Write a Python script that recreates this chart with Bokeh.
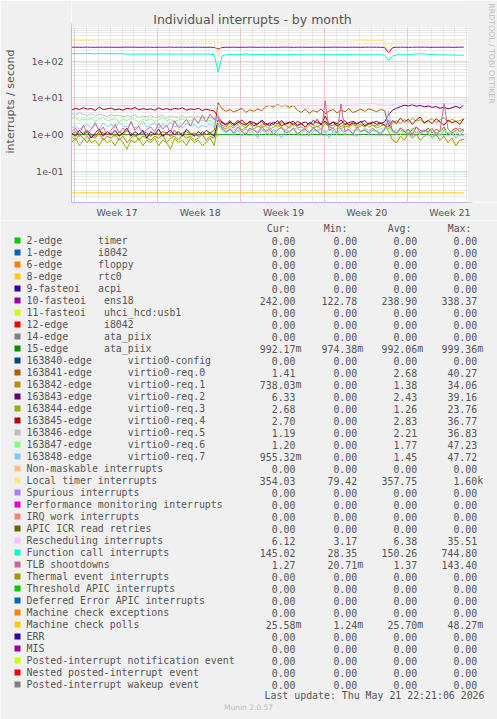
import re
from bokeh.plotting import figure
from bokeh.layouts import column
from bokeh.models import Range1d, FixedTicker, Label, BoxAnnotation
from bokeh.core.properties import value
from bokeh.embed import file_html
from bokeh.resources import INLINE

# ---------------- data (one sample every 8 hours, 100 samples) ----------------
SAMPLES_PER_DAY = 3
N = 100
t_days = [i / SAMPLES_PER_DAY for i in range(N)]

week_line_days = [0.25, 7.25, 14.25, 21.25, 28.25]
week_label_days = [3.83, 10.83, 17.83, 24.83, 31.83]
week_labels = ["Week 17", "Week 18", "Week 19", "Week 20", "Week 21"]
y_tick_values = [0.1, 1, 10, 100]
y_tick_labels = ["1e-01", "1e+00", "1e+01", "1e+02"]

ens18 = [
    240, 241, 239, 240, 242, 240, 239, 241, 240, 240,
    241, 239, 240, 240, 242, 240, 241, 239, 240, 241,
    240, 239, 241, 240, 240, 242, 239, 240, 241, 240,
    239, 240, 241, 240, 239, 240, 238, 215, 236, 240,
    240, 241, 239, 240, 240, 242, 240, 239, 241, 240,
    240, 239, 241, 240, 242, 240, 239, 240, 241, 240,
    239, 240, 241, 240, 240, 239, 242, 240, 241, 239,
    240, 241, 240, 239, 240, 242, 240, 241, 239, 238,
    168, 232, 240, 241, 240, 239, 240, 242, 240, 241,
    240, 239, 241, 240, 240, 242, 239, 240, 241, 242,
]
ata_piix = [
    0.99, 0.99, 1.0, 0.99, 0.99, 0.98, 0.99, 0.99, 1.0, 0.99,
    0.99, 0.99, 0.98, 0.99, 0.99, 1.0, 0.99, 0.99, 0.99, 0.98,
    0.99, 1.0, 0.99, 0.99, 0.99, 0.98, 0.99, 0.99, 1.0, 0.99,
    0.99, 0.98, 0.99, 0.99, 1.0, 0.99, 0.99, 0.98, 0.99, 0.99,
    0.99, 0.99, 1.0, 0.99, 0.99, 0.98, 0.99, 0.99, 0.99, 1.0,
    0.99, 0.99, 0.98, 0.99, 0.99, 1.0, 0.99, 0.99, 0.98, 0.99,
    0.99, 1.0, 0.99, 0.99, 0.98, 0.99, 0.99, 1.0, 0.99, 0.99,
    0.99, 0.98, 0.99, 0.99, 1.0, 0.99, 0.99, 0.99, 0.98, 0.99,
    0.98, 0.99, 0.99, 1.0, 0.99, 0.99, 0.98, 0.99, 0.99, 1.0,
    0.99, 0.99, 0.98, 0.99, 0.99, 1.0, 0.99, 0.99, 0.98, 0.99,
]
virtio_req0 = [
    1.0, 1.2, 0.9, 1.1, 1.3, 1.0, 0.9, 1.2, 1.1, 1.0,
    1.1, 0.9, 1.2, 1.0, 1.3, 1.1, 0.9, 1.0, 1.2, 1.1,
    0.9, 1.1, 1.0, 1.2, 1.1, 0.9, 1.3, 1.0, 1.1, 1.2,
    1.0, 1.1, 0.9, 1.2, 1.0, 1.1, 1.3, 7.4, 5.0, 4.3,
    4.8, 4.1, 4.6, 5.2, 4.0, 4.7, 4.3, 5.0, 4.4, 5.8,
    6.2, 5.6, 6.6, 5.9, 6.3, 5.5, 6.1, 4.6, 4.0, 4.9,
    3.8, 4.5, 4.1, 5.0, 3.7, 4.4, 4.8, 3.9, 4.6, 4.2,
    5.1, 4.0, 4.4, 4.9, 4.3, 5.0, 4.6, 4.2, 4.8, 4.5,
    1.8, 1.3, 1.1, 1.5, 1.2, 1.4, 1.0, 1.6, 1.3, 1.2,
    1.5, 1.1, 1.4, 1.2, 1.6, 1.0, 1.3, 1.5, 1.2, 1.41,
]
virtio_req1 = [
    0.9, 0.7, 1.0, 0.8, 0.6, 0.9, 0.8, 1.1, 0.7, 0.9,
    0.8, 1.0, 0.7, 0.9, 0.6, 0.8, 1.0, 0.7, 0.9, 0.8,
    0.7, 0.9, 0.8, 1.0, 0.6, 0.8, 0.9, 0.7, 1.0, 0.8,
    0.9, 0.7, 0.8, 1.0, 0.7, 0.9, 0.8, 2.0, 1.8, 1.6,
    2.0, 1.7, 2.2, 1.8, 1.5, 1.9, 2.1, 1.6, 1.8, 2.0,
    1.7, 1.9, 1.6, 2.2, 1.8, 1.5, 2.0, 1.7, 1.9, 1.6,
    2.1, 1.8, 1.6, 1.9, 2.2, 1.7, 1.8, 2.0, 1.6, 1.9,
    1.8, 2.0, 1.7, 1.9, 1.6, 2.1, 1.8, 1.7, 2.0, 1.8,
    1.2, 0.7, 0.6, 0.9, 0.7, 1.1, 0.8, 1.0, 0.7, 0.9,
    1.1, 0.8, 1.0, 0.7, 0.9, 0.6, 0.8, 0.5, 0.7, 0.74,
]
virtio_req2 = [
    1.1, 0.9, 1.3, 1.0, 1.2, 0.8, 1.1, 1.4, 0.9, 1.2,
    1.0, 1.3, 0.9, 1.1, 1.5, 0.9, 1.2, 1.0, 1.3, 0.8,
    1.2, 1.0, 1.4, 0.9, 1.1, 1.3, 1.0, 1.2, 0.9, 1.4,
    1.1, 0.9, 1.2, 1.0, 1.3, 1.1, 0.9, 2.5, 2.1, 1.8,
    2.2, 1.9, 2.4, 2.0, 1.8, 2.3, 2.1, 1.9, 2.5, 2.0,
    1.8, 2.2, 2.0, 2.4, 1.9, 2.1, 2.3, 1.8, 2.0, 2.2,
    1.9, 2.4, 2.1, 2.0, 2.3, 1.8, 2.2, 2.0, 2.5, 1.9,
    2.1, 2.3, 2.0, 2.2, 2.4, 1.9, 2.1, 2.3, 2.0, 2.2,
    3.5, 4.6, 5.2, 5.8, 6.3, 6.0, 6.5, 5.9, 6.2, 5.7,
    6.0, 5.5, 5.8, 5.2, 5.6, 5.0, 5.4, 5.9, 5.3, 6.33,
]
virtio_req3 = [
    0.6, 0.8, 0.5, 0.7, 0.9, 0.6, 0.7, 0.5, 0.8, 0.6,
    0.7, 0.5, 0.8, 0.6, 0.4, 0.7, 0.6, 0.8, 0.5, 0.7,
    0.6, 0.8, 0.5, 0.7, 0.6, 0.4, 0.8, 0.6, 0.7, 0.5,
    0.8, 0.6, 0.7, 0.5, 0.6, 0.8, 0.5, 1.8, 1.6, 1.4,
    1.7, 1.5, 1.9, 1.3, 1.6, 2.0, 1.4, 1.7, 1.5, 1.8,
    1.4, 1.6, 1.9, 1.5, 1.3, 1.7, 2.1, 1.5, 1.6, 1.4,
    1.8, 1.5, 1.7, 1.4, 2.0, 1.6, 1.5, 1.9, 1.4, 1.7,
    1.6, 1.9, 1.5, 1.7, 2.0, 1.6, 1.8, 1.5, 1.7, 1.9,
    1.4, 2.1, 2.4, 2.0, 2.6, 2.2, 2.8, 2.3, 2.5, 2.0,
    2.4, 2.7, 2.1, 2.5, 2.9, 2.2, 2.6, 2.3, 2.4, 2.68,
]
virtio_req4 = [
    4.6, 5.2, 4.8, 5.4, 4.9, 5.1, 4.5, 5.6, 4.8, 5.0,
    5.3, 4.7, 5.0, 4.6, 5.2, 4.9, 5.5, 4.7, 5.1, 4.8,
    5.0, 4.6, 5.3, 4.8, 5.1, 4.7, 5.2, 4.9, 5.4, 4.6,
    5.0, 4.8, 5.2, 4.5, 4.9, 4.6, 4.4, 3.0, 2.2, 1.9,
    2.4, 1.8, 2.1, 2.5, 1.9, 2.2, 1.7, 2.0, 2.3, 1.8,
    2.1, 1.9, 2.4, 1.7, 2.0, 2.2, 1.8, 2.3, 2.0, 1.6,
    2.1, 1.9, 2.6, 1.8, 3.2, 1.9, 2.2, 1.7, 2.0, 2.4,
    1.8, 2.1, 1.9, 2.3, 1.7, 2.0, 2.2, 1.9, 2.1, 1.8,
    1.6, 2.4, 2.0, 2.8, 2.2, 2.6, 1.9, 2.5, 3.0, 2.1,
    2.4, 2.0, 2.7, 2.2, 1.8, 2.5, 2.1, 2.3, 1.9, 2.7,
]
virtio_req5 = [
    3.8, 3.4, 3.9, 3.5, 3.3, 3.7, 3.2, 3.6, 3.4, 3.1,
    3.5, 3.2, 3.4, 3.0, 3.3, 3.1, 3.5, 2.9, 3.2, 3.0,
    3.3, 2.9, 3.1, 3.4, 2.8, 3.2, 3.0, 2.9, 3.3, 2.8,
    3.1, 2.9, 3.2, 2.7, 3.0, 2.8, 2.9, 2.0, 1.4, 1.2,
    1.5, 1.3, 1.6, 1.2, 1.4, 1.3, 1.5, 1.1, 1.4, 1.3,
    1.6, 1.2, 1.4, 1.5, 1.3, 1.2, 1.5, 1.4, 1.3, 1.6,
    1.2, 1.4, 1.3, 1.5, 1.2, 1.4, 1.3, 1.5, 1.4, 1.2,
    1.6, 1.3, 1.4, 1.2, 1.5, 1.3, 1.4, 1.2, 1.5, 1.3,
    1.8, 1.1, 1.3, 1.2, 1.4, 1.0, 1.3, 1.2, 1.1, 1.4,
    1.2, 1.3, 1.0, 1.2, 1.4, 1.1, 1.3, 1.2, 1.0, 1.19,
]
virtio_req6 = [
    2.6, 2.9, 2.4, 2.7, 2.5, 2.8, 2.3, 2.6, 2.9, 2.4,
    2.5, 2.7, 2.3, 2.6, 2.4, 2.8, 2.5, 2.2, 2.6, 2.4,
    2.7, 2.3, 2.5, 2.9, 2.4, 2.6, 2.2, 2.5, 2.7, 2.3,
    2.4, 2.6, 2.2, 2.5, 2.3, 2.4, 2.1, 1.8, 1.3, 1.2,
    1.4, 1.1, 1.3, 1.2, 1.5, 1.1, 1.3, 1.2, 1.4, 1.0,
    1.3, 1.2, 1.4, 1.1, 1.3, 1.2, 1.5, 1.1, 1.2, 1.4,
    1.1, 1.3, 1.2, 1.4, 1.1, 1.3, 1.2, 1.0, 1.3, 1.2,
    1.4, 1.1, 1.3, 1.2, 1.5, 1.1, 1.2, 1.3, 1.1, 1.4,
    1.6, 1.2, 1.4, 1.0, 1.3, 1.1, 1.5, 1.2, 1.0, 1.3,
    1.1, 1.4, 1.2, 0.9, 1.3, 1.1, 1.2, 1.0, 1.3, 1.2,
]
virtio_req7 = [
    1.5, 1.7, 1.4, 1.6, 1.9, 1.5, 1.8, 1.4, 2.1, 1.6,
    1.9, 1.5, 2.2, 1.7, 1.6, 2.0, 1.5, 1.8, 2.3, 1.6,
    1.8, 2.1, 1.5, 1.9, 1.7, 2.2, 1.6, 1.8, 1.5, 2.0,
    1.7, 1.9, 1.5, 1.8, 1.6, 2.0, 1.5, 3.6, 1.3, 1.1,
    1.4, 1.0, 1.3, 0.9, 1.2, 1.5, 1.1, 0.8, 1.3, 1.2,
    1.0, 1.4, 1.1, 0.8, 1.3, 1.2, 1.5, 1.0, 1.1, 1.3,
    0.9, 1.2, 1.4, 1.0, 1.3, 0.8, 1.2, 1.1, 1.4, 1.0,
    1.3, 1.1, 0.9, 1.2, 1.4, 1.0, 1.3, 1.2, 1.1, 1.3,
    4.4, 1.2, 1.0, 1.4, 1.1, 1.3, 0.9, 1.2, 1.0, 1.3,
    1.1, 0.8, 1.2, 1.0, 1.3, 0.9, 1.1, 0.8, 1.0, 0.96,
]
local_timer = [
    372, 370, 368, 371, 366, 362, 355, 352, 350, 351,
    350, 352, 349, 351, 350, 352, 351, 349, 350, 351,
    350, 352, 351, 350, 349, 351, 352, 350, 351, 350,
    349, 351, 350, 352, 351, 350, 349, 140, 330, 352,
    351, 350, 352, 349, 351, 350, 351, 352, 350, 349,
    351, 350, 352, 351, 350, 349, 351, 350, 352, 351,
    350, 349, 351, 352, 350, 351, 350, 349, 351, 352,
    350, 351, 365, 370, 372, 368, 371, 369, 366, 362,
    175, 340, 352, 350, 351, 349, 350, 352, 351, 350,
    349, 351, 350, 352, 351, 350, 349, 351, 352, 354,
]
rescheduling = [
    6.2, 6.3, 6.2, 6.2, 6.3, 6.2, 6.2, 6.3, 6.2, 6.2,
    6.3, 6.2, 6.2, 6.3, 6.2, 6.2, 6.3, 6.2, 6.2, 6.3,
    6.2, 6.2, 6.3, 6.2, 6.2, 6.3, 6.2, 6.2, 6.3, 6.2,
    6.2, 6.3, 6.2, 6.2, 6.3, 6.2, 6.2, 6.0, 6.2, 6.3,
    6.3, 6.2, 6.3, 6.3, 6.2, 6.3, 6.3, 6.2, 6.3, 6.3,
    6.2, 6.3, 6.3, 6.2, 6.3, 6.3, 6.2, 6.3, 6.3, 6.2,
    6.3, 6.3, 6.2, 6.3, 6.3, 6.2, 6.3, 6.3, 6.2, 6.3,
    6.3, 6.2, 6.9, 7.0, 7.0, 6.9, 7.0, 6.8, 6.4, 6.3,
    6.2, 6.6, 6.8, 6.9, 6.8, 6.9, 6.8, 6.9, 6.8, 6.9,
    6.8, 6.9, 6.8, 6.8, 6.9, 6.8, 6.9, 6.8, 6.8, 6.1,
]
function_call = [
    160, 161, 159, 160, 162, 160, 158, 161, 160, 159,
    160, 158, 161, 159, 156, 157, 155, 156, 157, 155,
    156, 157, 155, 156, 158, 156, 155, 157, 156, 155,
    157, 156, 155, 156, 157, 155, 152, 50, 140, 150,
    152, 151, 150, 153, 158, 152, 150, 151, 152, 150,
    151, 152, 150, 149, 151, 150, 152, 151, 150, 149,
    150, 151, 149, 150, 152, 150, 149, 151, 150, 152,
    150, 149, 151, 150, 148, 149, 150, 151, 149, 147,
    105, 138, 148, 150, 149, 151, 152, 158, 160, 156,
    154, 152, 150, 148, 149, 147, 148, 146, 147, 145,
]
tlb_shootdowns = [
    1.2, 1.5, 1.0, 1.8, 1.1, 1.4, 2.1, 1.2, 1.6, 1.0,
    1.3, 1.9, 1.1, 1.5, 1.2, 2.3, 1.3, 1.7, 1.0, 1.4,
    1.6, 1.2, 2.0, 1.4, 1.8, 1.1, 2.4, 1.5, 1.9, 2.6,
    1.7, 2.8, 2.0, 3.4, 2.2, 3.6, 2.5, 3.0, 1.5, 1.2,
    1.4, 1.1, 1.6, 1.2, 1.0, 1.5, 1.3, 1.1, 1.7, 1.2,
    1.4, 1.0, 1.3, 1.6, 1.1, 1.2, 1.5, 1.0, 1.3, 1.4,
    1.1, 1.6, 1.2, 1.0, 8.3, 1.3, 1.5, 1.1, 6.8, 1.2,
    1.4, 1.0, 1.6, 1.2, 1.3, 1.1, 1.5, 1.2, 1.0, 1.4,
    2.5, 1.3, 1.1, 1.5, 1.2, 1.0, 1.4, 1.6, 1.1, 1.3,
    1.2, 1.5, 1.0, 1.3, 7.0, 1.4, 1.1, 1.3, 1.5, 1.27,
]
machine_check_polls = [
    0.0257, 0.0256, 0.0258, 0.0257, 0.0257, 0.0256, 0.0258, 0.0257, 0.0257, 0.0256,
    0.0257, 0.0258, 0.0257, 0.0256, 0.0257, 0.0257, 0.0258, 0.0257, 0.0256, 0.0257,
    0.0258, 0.0257, 0.0257, 0.0256, 0.0257, 0.0258, 0.0257, 0.0257, 0.0256, 0.0257,
    0.0257, 0.0258, 0.0256, 0.0257, 0.0257, 0.0258, 0.0257, 0.0256, 0.0257, 0.0257,
    0.0258, 0.0257, 0.0256, 0.0257, 0.0257, 0.0258, 0.0257, 0.0256, 0.0257, 0.0258,
    0.0257, 0.0257, 0.0256, 0.0258, 0.0257, 0.0257, 0.0256, 0.0257, 0.0258, 0.0257,
    0.0256, 0.0257, 0.0257, 0.0258, 0.0257, 0.0256, 0.0257, 0.0257, 0.0258, 0.0257,
    0.0257, 0.0256, 0.0258, 0.0257, 0.0257, 0.0256, 0.0257, 0.0258, 0.0257, 0.0257,
    0.0256, 0.0257, 0.0258, 0.0257, 0.0256, 0.0257, 0.0257, 0.0258, 0.0257, 0.0256,
    0.0257, 0.0258, 0.0257, 0.0257, 0.0256, 0.0257, 0.0258, 0.0257, 0.0256, 0.0256,
]

# drawn in legend order: (values, colour)
plotted_series = [
    (ens18, "#990099"),
    (ata_piix, "#008F00"),
    (virtio_req0, "#B35A00"),
    (virtio_req1, "#B38F00"),
    (virtio_req2, "#6B006B"),
    (virtio_req3, "#8FB300"),
    (virtio_req4, "#B30000"),
    (virtio_req5, "#BEBEBE"),
    (virtio_req6, "#80FF80"),
    (virtio_req7, "#80C9FF"),
    (local_timer, "#FFE680"),
    (rescheduling, "#FFBFFF"),
    (function_call, "#00FFCC"),
    (tlb_shootdowns, "#CC6699"),
    (machine_check_polls, "#FFCC00"),
]

legend_labels = [
    "2-edge      timer", "1-edge      i8042", "6-edge      floppy", "8-edge      rtc0",
    "9-fasteoi   acpi", "10-fasteoi   ens18", "11-fasteoi   uhci_hcd:usb1",
    "12-edge      i8042", "14-edge      ata_piix", "15-edge      ata_piix",
    "163840-edge      virtio0-config", "163841-edge      virtio0-req.0",
    "163842-edge      virtio0-req.1", "163843-edge      virtio0-req.2",
    "163844-edge      virtio0-req.3", "163845-edge      virtio0-req.4",
    "163846-edge      virtio0-req.5", "163847-edge      virtio0-req.6",
    "163848-edge      virtio0-req.7", "Non-maskable interrupts", "Local timer interrupts",
    "Spurious interrupts", "Performance monitoring interrupts", "IRQ work interrupts",
    "APIC ICR read retries", "Rescheduling interrupts", "Function call interrupts",
    "TLB shootdowns", "Thermal event interrupts", "Threshold APIC interrupts",
    "Deferred Error APIC interrupts", "Machine check exceptions", "Machine check polls",
    "ERR", "MIS", "Posted-interrupt notification event", "Nested posted-interrupt event",
    "Posted-interrupt wakeup event",
]
legend_colors = [
    "#00CC00", "#0066B3", "#FF8000", "#FFCC00", "#330099", "#990099", "#CCFF00",
    "#FF0000", "#808080", "#008F00", "#00487D", "#B35A00", "#B38F00", "#6B006B",
    "#8FB300", "#B30000", "#BEBEBE", "#80FF80", "#80C9FF", "#FFC080", "#FFE680",
    "#AA80FF", "#EE00CC", "#FF8080", "#666600", "#FFBFFF", "#00FFCC", "#CC6699",
    "#999900", "#00CC00", "#0066B3", "#FF8000", "#FFCC00", "#330099", "#990099",
    "#CCFF00", "#FF0000", "#808080",
]
Z = "0.00"
cur_vals = [Z, Z, Z, Z, Z, "242.00", Z, Z, Z, "992.17m", Z, "1.41", "738.03m", "6.33",
            "2.68", "2.70", "1.19", "1.20", "955.32m", Z, "354.03", Z, Z, Z, Z, "6.12",
            "145.02", "1.27", Z, Z, Z, Z, "25.58m", Z, Z, Z, Z, Z]
min_vals = [Z, Z, Z, Z, Z, "122.78", Z, Z, Z, "974.38m", Z, Z, Z, Z,
            Z, Z, Z, Z, Z, Z, "79.42", Z, Z, Z, Z, "3.17",
            "28.35", "20.71m", Z, Z, Z, Z, "1.24m", Z, Z, Z, Z, Z]
avg_vals = [Z, Z, Z, Z, Z, "238.90", Z, Z, Z, "992.06m", Z, "2.68", "1.38", "2.43",
            "1.26", "2.83", "2.21", "1.77", "1.45", Z, "357.75", Z, Z, Z, Z, "6.38",
            "150.26", "1.37", Z, Z, Z, Z, "25.70m", Z, Z, Z, Z, Z]
max_vals = [Z, Z, Z, Z, Z, "338.37", Z, Z, Z, "999.36m", Z, "40.27", "34.06", "39.16",
            "23.76", "36.77", "36.83", "47.23", "47.72", Z, "1.60k", Z, Z, Z, Z, "35.51",
            "744.80", "143.40", Z, Z, Z, Z, "48.27m", Z, Z, Z, Z, Z]
column_headers = ["Cur:", "Min:", "Avg:", "Max:"]

TITLE = "Individual interrupts - by month"
Y_LABEL = "interrupts / second"
LAST_UPDATE = "Last update: Thu May 21 22:21:06 2026"
MUNIN = "Munin 2.0.57"
RRD = "RRDTOOL / TOBI OETIKER"

# ---------------- styles ----------------
BG = "#F0F0F0"
TXT = "#555555"
SANS = "DejaVu Sans"
MONO = "DejaVu Sans Mono"

W = 497
CH_H = 220
LG_H = 719 - CH_H
# frame spans x 67..497 and y 0..202; visible plot area is x 67..467, y 27..202
FR_L, FR_B = 67, 18
X_END = 33.33          # right end of the visible plot area (days)
X_FRAME_END = 35.83    # right end of the frame (days)
Y_TOP = 830            # top of the visible plot area
Y_FRAME = (0.01402, 4518)

# ---------------- chart ----------------
p = figure(width=W, height=CH_H, x_range=Range1d(0, X_FRAME_END), y_range=Range1d(*Y_FRAME),
           y_axis_type="log", output_backend="svg", toolbar_location=None, title=None,
           min_border_left=FR_L, min_border_right=0, min_border_top=0,
           min_border_bottom=FR_B, background_fill_color="white", border_fill_color=BG)
p.outline_line_color = None
p.frame_align = False

p.xgrid.ticker = FixedTicker(ticks=week_line_days,
                             minor_ticks=[0.25 + k for k in range(34)])
p.xgrid.grid_line_color = "#F0A0A0"
p.xgrid.grid_line_dash = "1 1"
p.xgrid.minor_grid_line_color = "#D4D4D4"
p.xgrid.minor_grid_line_dash = "1 1"
p.ygrid.ticker = FixedTicker(ticks=y_tick_values,
                             minor_ticks=[m * 10.0 ** e for e in range(-2, 3) for m in range(2, 10)])
p.ygrid.grid_line_color = "#F0A0A0"
p.ygrid.grid_line_dash = "1 1"
p.ygrid.minor_grid_line_color = "#D4D4D4"
p.ygrid.minor_grid_line_dash = "1 1"

for ax in (p.xaxis[0], p.yaxis[0]):
    ax.axis_line_color = "#B8BCE4"
    ax.major_tick_line_color = None
    ax.minor_tick_line_color = None
    ax.major_tick_out = 0
    ax.major_tick_in = 0
    ax.minor_tick_out = 0
    ax.minor_tick_in = 0
    ax.major_label_text_font = SANS
    ax.major_label_text_color = TXT
    ax.major_label_text_font_size = "9.5px"

p.xaxis.ticker = FixedTicker(ticks=week_label_days)
p.xaxis.major_label_overrides = dict(zip(week_label_days, week_labels))
p.xaxis.major_label_standoff = 4
p.xaxis.bounds = (0, 33.7)
p.yaxis.ticker = FixedTicker(ticks=y_tick_values)
p.yaxis.major_label_overrides = dict(zip(y_tick_values, y_tick_labels))
p.yaxis.major_label_standoff = 8
p.yaxis.bounds = (Y_FRAME[0], 1050)
p.yaxis.axis_label = Y_LABEL
p.yaxis.axis_label_text_font = SANS
p.yaxis.axis_label_text_font_size = "11px"
p.yaxis.axis_label_text_font_style = "normal"
p.yaxis.axis_label_text_color = TXT
p.yaxis.axis_label_standoff = 12

for vals, col in plotted_series:
    p.line(t_days, vals, line_color=col, line_width=1)

# grey margins above and to the right of the plot area
p.add_layout(BoxAnnotation(bottom=Y_TOP, fill_color=BG, fill_alpha=1, line_color=None))
p.add_layout(BoxAnnotation(left=X_END, fill_color=BG, fill_alpha=1, line_color=None))

frame_bottom = CH_H - FR_B   # 202
p.add_layout(Label(x=248 - FR_L, y=frame_bottom - 19, x_units="screen", y_units="screen",
                   text=TITLE, text_align="center", text_baseline="middle",
                   text_font=SANS, text_font_size="12.5px", text_color=TXT))
p.add_layout(Label(x=487 - FR_L, y=frame_bottom - 53, x_units="screen", y_units="screen",
                   text=RRD, angle=-1.5708, text_align="center", text_baseline="middle",
                   text_font=SANS, text_font_size="7.8px", text_color="#C0C0C0"))

# ---------------- legend (pixel coordinates, y downward from y=220) ----------------
lg = figure(width=W, height=LG_H, x_range=Range1d(0, W), y_range=Range1d(LG_H, 0),
            output_backend="svg", toolbar_location=None, min_border=0,
            x_axis_location=None, y_axis_location=None,
            background_fill_color=BG, border_fill_color=BG)
lg.outline_line_color = None
lg.frame_align = False
lg.xgrid.visible = False
lg.ygrid.visible = False

CW = 9.9 * 0.602
ROW0, ROWH = 20, 12
name_x, name_y, name_t = [], [], []
for k, lab in enumerate(legend_labels):
    y = ROW0 + k * ROWH
    parts = re.split(r"\s{2,}", lab)
    name_x.append(26); name_y.append(y); name_t.append(parts[0])
    if len(parts) > 1:
        off = lab.index(parts[1], len(parts[0]))
        name_x.append(26 + off * CW); name_y.append(y); name_t.append(parts[1])

lg.rect(x=[17] * len(legend_labels), y=[ROW0 + k * ROWH for k in range(len(legend_labels))],
        width=6, height=6, fill_color=legend_colors, line_color=None)
mono_kw = dict(text_font=value(MONO), text_font_size=value("9.9px"), text_color=TXT,
               text_baseline="middle")
lg.text(x=name_x, y=name_y, text=name_t, text_align="left", **mono_kw)

col_edges = [295, 356.7, 416.7, 476.7]
head_edges = [290, 347, 411, 471]
lg.text(x=head_edges, y=[8] * 4, text=column_headers, text_align="right", **mono_kw)
num_x, num_y, num_t, suf_x, suf_y, suf_t = [], [], [], [], [], []
for edge, vals in zip(col_edges, [cur_vals, min_vals, avg_vals, max_vals]):
    for k, s in enumerate(vals):
        y = ROW0 + k * ROWH
        if s[-1].isalpha():
            num, suf = s[:-1], s[-1]
            suf_x.append(edge); suf_y.append(y); suf_t.append(suf)
        else:
            num = s
        num_x.append(edge); num_y.append(y); num_t.append(num)
lg.text(x=num_x, y=num_y, text=num_t, text_align="right", **mono_kw)
lg.text(x=suf_x, y=suf_y, text=suf_t, text_align="left", **mono_kw)
lg.text(x=[484], y=[475], text=[LAST_UPDATE], text_align="right", **mono_kw)
lg.text(x=[248], y=[487], text=[MUNIN], text_align="center", text_baseline="middle",
        text_font=value(SANS), text_font_size=value("7.5px"), text_color="#BBBBBB")

layout = column(p, lg)
open("out.html", "w").write(file_html(layout, INLINE))
